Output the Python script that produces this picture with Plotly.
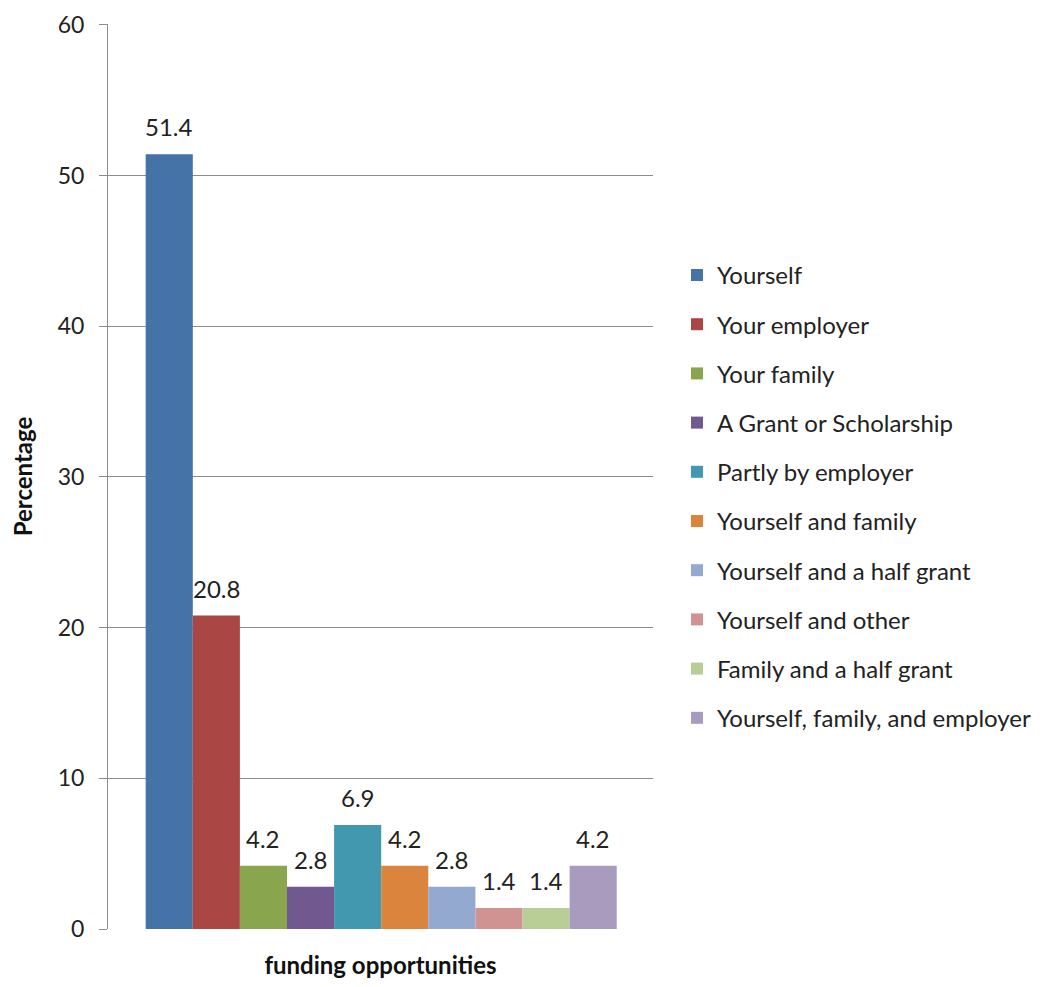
import plotly.graph_objects as go

categories = ["Yourself", "Your employer", "Your family", "A Grant or Scholarship",
              "Partly by employer", "Yourself and family", "Yourself and a half grant",
              "Yourself and other", "Family and a half grant", "Yourself, family, and employer"]
values = [51.4, 20.8, 4.2, 2.8, 6.9, 4.2, 2.8, 1.4, 1.4, 4.2]
colors = ["#4572A7", "#AA4643", "#89A54E", "#71588F", "#4198AF",
          "#DB843D", "#93A9CF", "#D19392", "#B9CD96", "#A99BBD"]
y_ticks = [0, 10, 20, 30, 40, 50, 60]

FONT = "Lato, Liberation Sans, sans-serif"

fig = go.Figure()
for i, (name, v, c) in enumerate(zip(categories, values, colors)):
    fig.add_trace(go.Bar(
        x=[name], y=[v], name=name, legendgroup=f"g{i}",
        marker=dict(color=c, line=dict(width=0)),
        width=1.0,
    ))
    fig.add_annotation(x=name, y=v, text=f"{v:.1f}", showarrow=False,
                       yanchor="bottom", yshift=11,
                       font=dict(size=24, color="#222222", family=FONT))

fig.update_layout(
    width=1046, height=971,
    margin=dict(l=100, r=401, t=16, b=50, autoexpand=False),
    paper_bgcolor="white", plot_bgcolor="white",
    barmode="overlay",
    font=dict(family=FONT, size=24, color="#222222"),
    showlegend=True,
    legend=dict(x=1.044, xanchor="left", y=0.478, yanchor="middle",
                font=dict(size=24, family=FONT, color="#222222"),
                tracegroupgap=15, itemwidth=30, traceorder="grouped"),
    xaxis=dict(type="category", categoryorder="array", categoryarray=categories,
               range=[-1.3, 10.27], automargin=False,
               showticklabels=False, ticks="", showline=False, showgrid=False,
               title=dict(text="<b>funding opportunities</b>", standoff=39,
                          font=dict(size=24, family=FONT, color="#111111"))),
    yaxis=dict(range=[0, 60.05], tickvals=y_ticks, showgrid=True, gridcolor="#8C8C8C",
               gridwidth=1, showline=True, linecolor="#8C8C8C", linewidth=1,
               ticks="outside", ticklen=8, tickcolor="#8C8C8C", automargin=False,
               zeroline=False, ticklabelstandoff=10, ticklabeloverflow="allow",
               tickfont=dict(size=23, family=FONT, color="#222222"),
               title=dict(text="<b>Percentage</b>", standoff=22,
                          font=dict(size=24, family=FONT, color="#111111"))),
)

fig.write_html("out.html")
